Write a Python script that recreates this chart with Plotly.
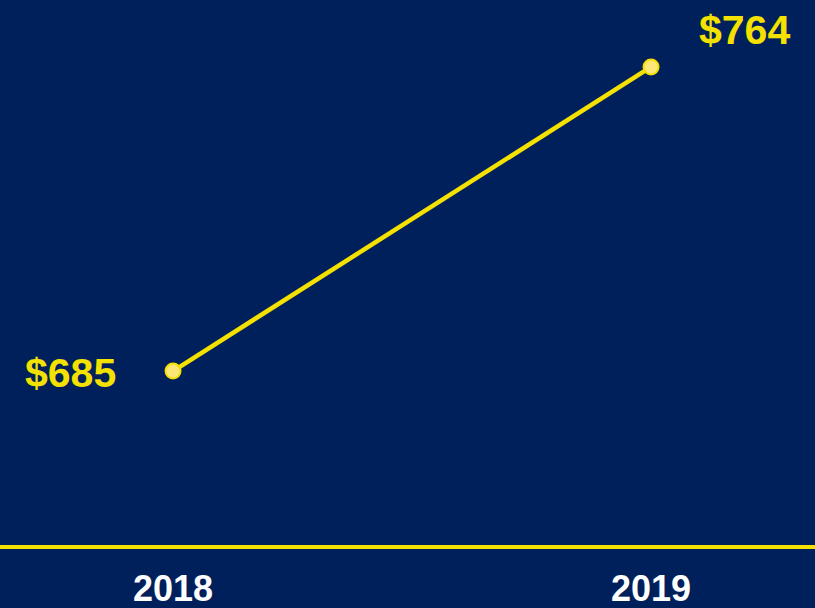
import plotly.graph_objects as go

years = [2018, 2019]
values = [685, 764]
labels = ["$685", "$764"]

BG = "#00205B"
YEL = "#F5E100"

fig = go.Figure()
fig.add_trace(go.Scatter(
    x=years, y=values, mode="lines+markers",
    line=dict(color=YEL, width=4.5),
    marker=dict(size=15, color="#FBE878", line=dict(color=YEL, width=2)),
    hoverinfo="skip", showlegend=False,
))

fig.add_annotation(x=years[0], y=values[0], text=labels[0], showarrow=False,
                   xanchor="right", yanchor="middle", xshift=-55, yshift=-2,
                   font=dict(family="Liberation Sans, Arial", size=41, color=YEL, weight="bold"))
fig.add_annotation(x=years[1], y=values[1], text=labels[1], showarrow=False,
                   xanchor="left", yanchor="middle", xshift=46, yshift=37,
                   font=dict(family="Liberation Sans, Arial", size=41, color=YEL, weight="bold"))

fig.update_layout(
    width=815, height=608,
    paper_bgcolor=BG, plot_bgcolor=BG,
    margin=dict(l=0, r=0, t=0, b=63),
    xaxis=dict(range=[2017.638, 2019.343], tickvals=years, ticktext=[str(y) for y in years],
               showgrid=False, zeroline=False, showline=True, linecolor=YEL, linewidth=4,
               ticks="outside", ticklen=9, tickcolor=BG, automargin=False,
               tickfont=dict(family="Liberation Sans, Arial", size=36, color="white", weight="bold")),
    yaxis=dict(range=[639.8, 781.4], visible=False, showgrid=False, zeroline=False, automargin=False),
)

fig.write_html("out.html", config={"displayModeBar": False},
               post_script="document.body.style.margin='0';document.body.style.overflow='hidden';")
